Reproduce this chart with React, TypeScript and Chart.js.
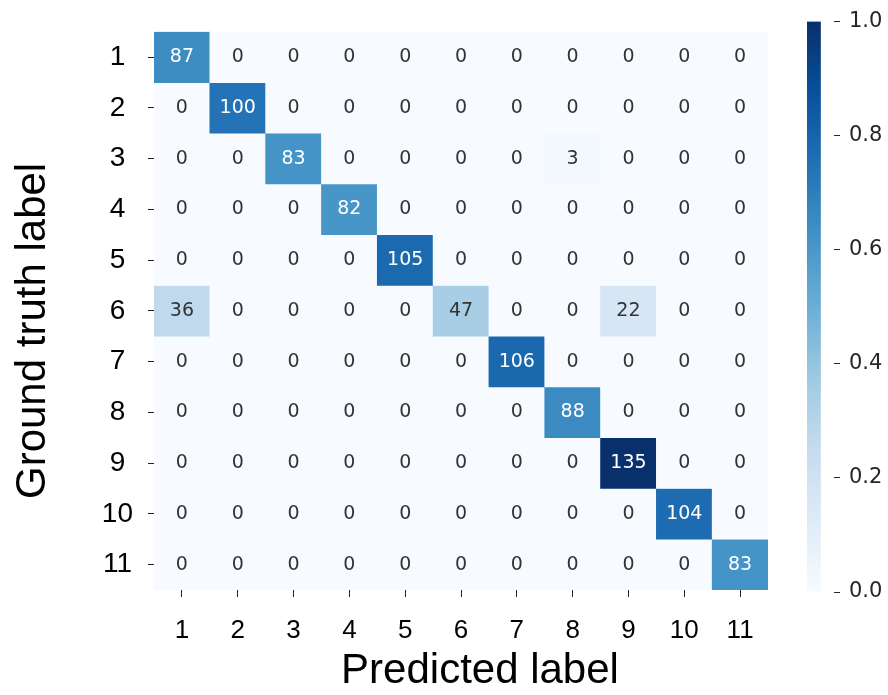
import React, { useEffect, useRef } from "react";
import { Chart, registerables } from "chart.js";

Chart.register(...registerables);

// Class labels on both axes
const predictedLabels = ["1", "2", "3", "4", "5", "6", "7", "8", "9", "10", "11"];
const truthLabels = ["1", "2", "3", "4", "5", "6", "7", "8", "9", "10", "11"];

// Confusion-matrix counts, one array per ground-truth row
const row1 = [87, 0, 0, 0, 0, 0, 0, 0, 0, 0, 0];
const row2 = [0, 100, 0, 0, 0, 0, 0, 0, 0, 0, 0];
const row3 = [0, 0, 83, 0, 0, 0, 0, 3, 0, 0, 0];
const row4 = [0, 0, 0, 82, 0, 0, 0, 0, 0, 0, 0];
const row5 = [0, 0, 0, 0, 105, 0, 0, 0, 0, 0, 0];
const row6 = [36, 0, 0, 0, 0, 47, 0, 0, 22, 0, 0];
const row7 = [0, 0, 0, 0, 0, 0, 106, 0, 0, 0, 0];
const row8 = [0, 0, 0, 0, 0, 0, 0, 88, 0, 0, 0];
const row9 = [0, 0, 0, 0, 0, 0, 0, 0, 135, 0, 0];
const row10 = [0, 0, 0, 0, 0, 0, 0, 0, 0, 104, 0];
const row11 = [0, 0, 0, 0, 0, 0, 0, 0, 0, 0, 83];
const counts = [row1, row2, row3, row4, row5, row6, row7, row8, row9, row10, row11];

// Colour bar tick values
const colorbarTicks = [0, 0.2, 0.4, 0.6, 0.8, 1.0];

// "Blues" sequential palette
const BLUES = ["#f7fbff", "#deebf7", "#c6dbef", "#9ecae1", "#6baed6", "#4292c6", "#2171b5", "#08519c", "#08306b"];

const hexToRgb = (h: string) => [1, 3, 5].map((i) => parseInt(h.slice(i, i + 2), 16));

function bluesRgb(t: number): number[] {
  const c = Math.max(0, Math.min(1, t)) * (BLUES.length - 1);
  const i = Math.min(Math.floor(c), BLUES.length - 2);
  const f = c - i;
  const a = hexToRgb(BLUES[i]);
  const b = hexToRgb(BLUES[i + 1]);
  return a.map((v, k) => Math.round(v + (b[k] - v) * f));
}
const bluesCss = (t: number) => {
  const [r, g, b] = bluesRgb(t);
  return `rgb(${r},${g},${b})`;
};

// Dark text on light cells, white text on dark cells
function textColorFor(t: number): string {
  const lin = bluesRgb(t).map((v) => {
    const s = v / 255;
    return s <= 0.03928 ? s / 12.92 : Math.pow((s + 0.055) / 1.055, 2.4);
  });
  const lum = 0.2126 * lin[0] + 0.7152 * lin[1] + 0.0722 * lin[2];
  return lum > 0.408 ? "#333333" : "#ffffff";
}

const maxCount = Math.max(...counts.map((r) => Math.max(...r)));
const SANS = '"Liberation Sans", Arial, sans-serif';
const DEJAVU = '"DejaVu Sans", sans-serif';

const cellLabels = {
  id: "cellLabels",
  afterDatasetsDraw(chart: any) {
    const ctx = chart.ctx;
    ctx.save();
    ctx.font = `19px ${DEJAVU}`;
    ctx.textAlign = "center";
    ctx.textBaseline = "middle";
    counts.forEach((row, r) => {
      const meta = chart.getDatasetMeta(r);
      meta.data.forEach((el: any, c: number) => {
        const v = row[c];
        const { x, y, base } = el.getProps(["x", "y", "base"], true);
        ctx.fillStyle = textColorFor(v / maxCount);
        ctx.fillText(String(v), x, (y + base) / 2);
      });
    });
    ctx.restore();
  },
};

const axisTitles = {
  id: "axisTitles",
  afterDraw(chart: any) {
    const { ctx, chartArea: a } = chart;
    ctx.save();
    ctx.fillStyle = "#000";
    ctx.font = `42px ${SANS}`;
    ctx.textAlign = "center";
    ctx.textBaseline = "alphabetic";
    ctx.fillText("Predicted label", (a.left + a.right) / 2 + 19, a.bottom + 93);
    ctx.translate(a.left - 109, (a.top + a.bottom) / 2 + 20);
    ctx.rotate(-Math.PI / 2);
    ctx.fillText("Ground truth label", 0, 0);
    ctx.restore();
  },
};

export default function App() {
  const mainRef = useRef<HTMLCanvasElement>(null);
  const barRef = useRef<HTMLCanvasElement>(null);

  useEffect(() => {
    const datasets = counts.map((row, r) => ({
      label: truthLabels[r],
      data: predictedLabels.map(() => [r + 0.5, r + 1.5]),
      backgroundColor: row.map((v) => bluesCss(v / maxCount)),
      borderWidth: 0,
      barPercentage: 1,
      categoryPercentage: 1,
      grouped: false,
    }));

    const main = new Chart(mainRef.current as HTMLCanvasElement, {
      type: "bar",
      data: { labels: predictedLabels, datasets: datasets as any },
      options: {
        responsive: false,
        animation: false,
        layout: { padding: { top: 18, right: 12, bottom: 0, left: 0 } },
        plugins: { legend: { display: false }, tooltip: { enabled: false } },
        scales: {
          x: {
            type: "category",
            offset: true,
            border: { display: false },
            grid: { drawOnChartArea: false, drawTicks: true, tickLength: 7, offset: false, color: "#222" },
            ticks: { font: { family: SANS, size: 26 }, color: "#000", padding: 18, maxRotation: 0, autoSkip: false },
            afterFit: (s: any) => {
              s.height = 105;
            },
          },
          y: {
            type: "linear",
            min: 0.5,
            max: 11.5,
            reverse: true,
            border: { display: false },
            grid: { drawOnChartArea: false, drawTicks: true, tickLength: 6, color: "#222" },
            afterBuildTicks: (s: any) => {
              s.ticks = truthLabels.map((_, i) => ({ value: i + 1 }));
            },
            ticks: {
              font: { family: SANS, size: 28 },
              color: "#000",
              crossAlign: "center",
              padding: 15,
              callback: (v: any) => truthLabels[Math.round(Number(v)) - 1],
            },
            afterFit: (s: any) => {
              s.width = 154;
            },
          },
        },
      } as any,
      plugins: [cellLabels, axisTitles],
    });

    const bar = new Chart(barRef.current as HTMLCanvasElement, {
      type: "bar",
      data: {
        labels: [""],
        datasets: [
          {
            data: [[0, 1]] as any,
            barPercentage: 1,
            categoryPercentage: 1,
            borderWidth: 0,
            backgroundColor: (c: any) => {
              const a = c.chart.chartArea;
              if (!a) return BLUES[4];
              const g = c.chart.ctx.createLinearGradient(0, a.bottom, 0, a.top);
              BLUES.forEach((col, i) => g.addColorStop(i / (BLUES.length - 1), col));
              return g;
            },
          },
        ],
      },
      options: {
        responsive: false,
        animation: false,
        layout: { padding: { top: 20, left: 27, bottom: 103, right: 0 } },
        plugins: { legend: { display: false }, tooltip: { enabled: false } },
        scales: {
          x: { display: false, offset: false },
          y: {
            type: "linear",
            position: "right",
            min: 0,
            max: 1,
            border: { display: false },
            grid: { drawOnChartArea: false, drawTicks: true, tickLength: 6, color: "#262626" },
            afterBuildTicks: (s: any) => {
              s.ticks = colorbarTicks.map((v) => ({ value: v }));
            },
            ticks: {
              font: { family: DEJAVU, size: 21 },
              color: "#262626",
              padding: 9,
              callback: (v: any) => Number(v).toFixed(1),
            },
            afterFit: (s: any) => {
              s.width = 54;
            },
          },
        },
      } as any,
    });

    return () => {
      main.destroy();
      bar.destroy();
    };
  }, []);

  return (
    <div style={{ position: "fixed", left: 0, top: 0, width: 888, height: 695, background: "#fff" }}>
      <canvas ref={mainRef} width={780} height={695} style={{ position: "absolute", left: 0, top: 0, display: "block" }} />
      <canvas ref={barRef} width={108} height={695} style={{ position: "absolute", left: 780, top: 0, display: "block" }} />
    </div>
  );
}
